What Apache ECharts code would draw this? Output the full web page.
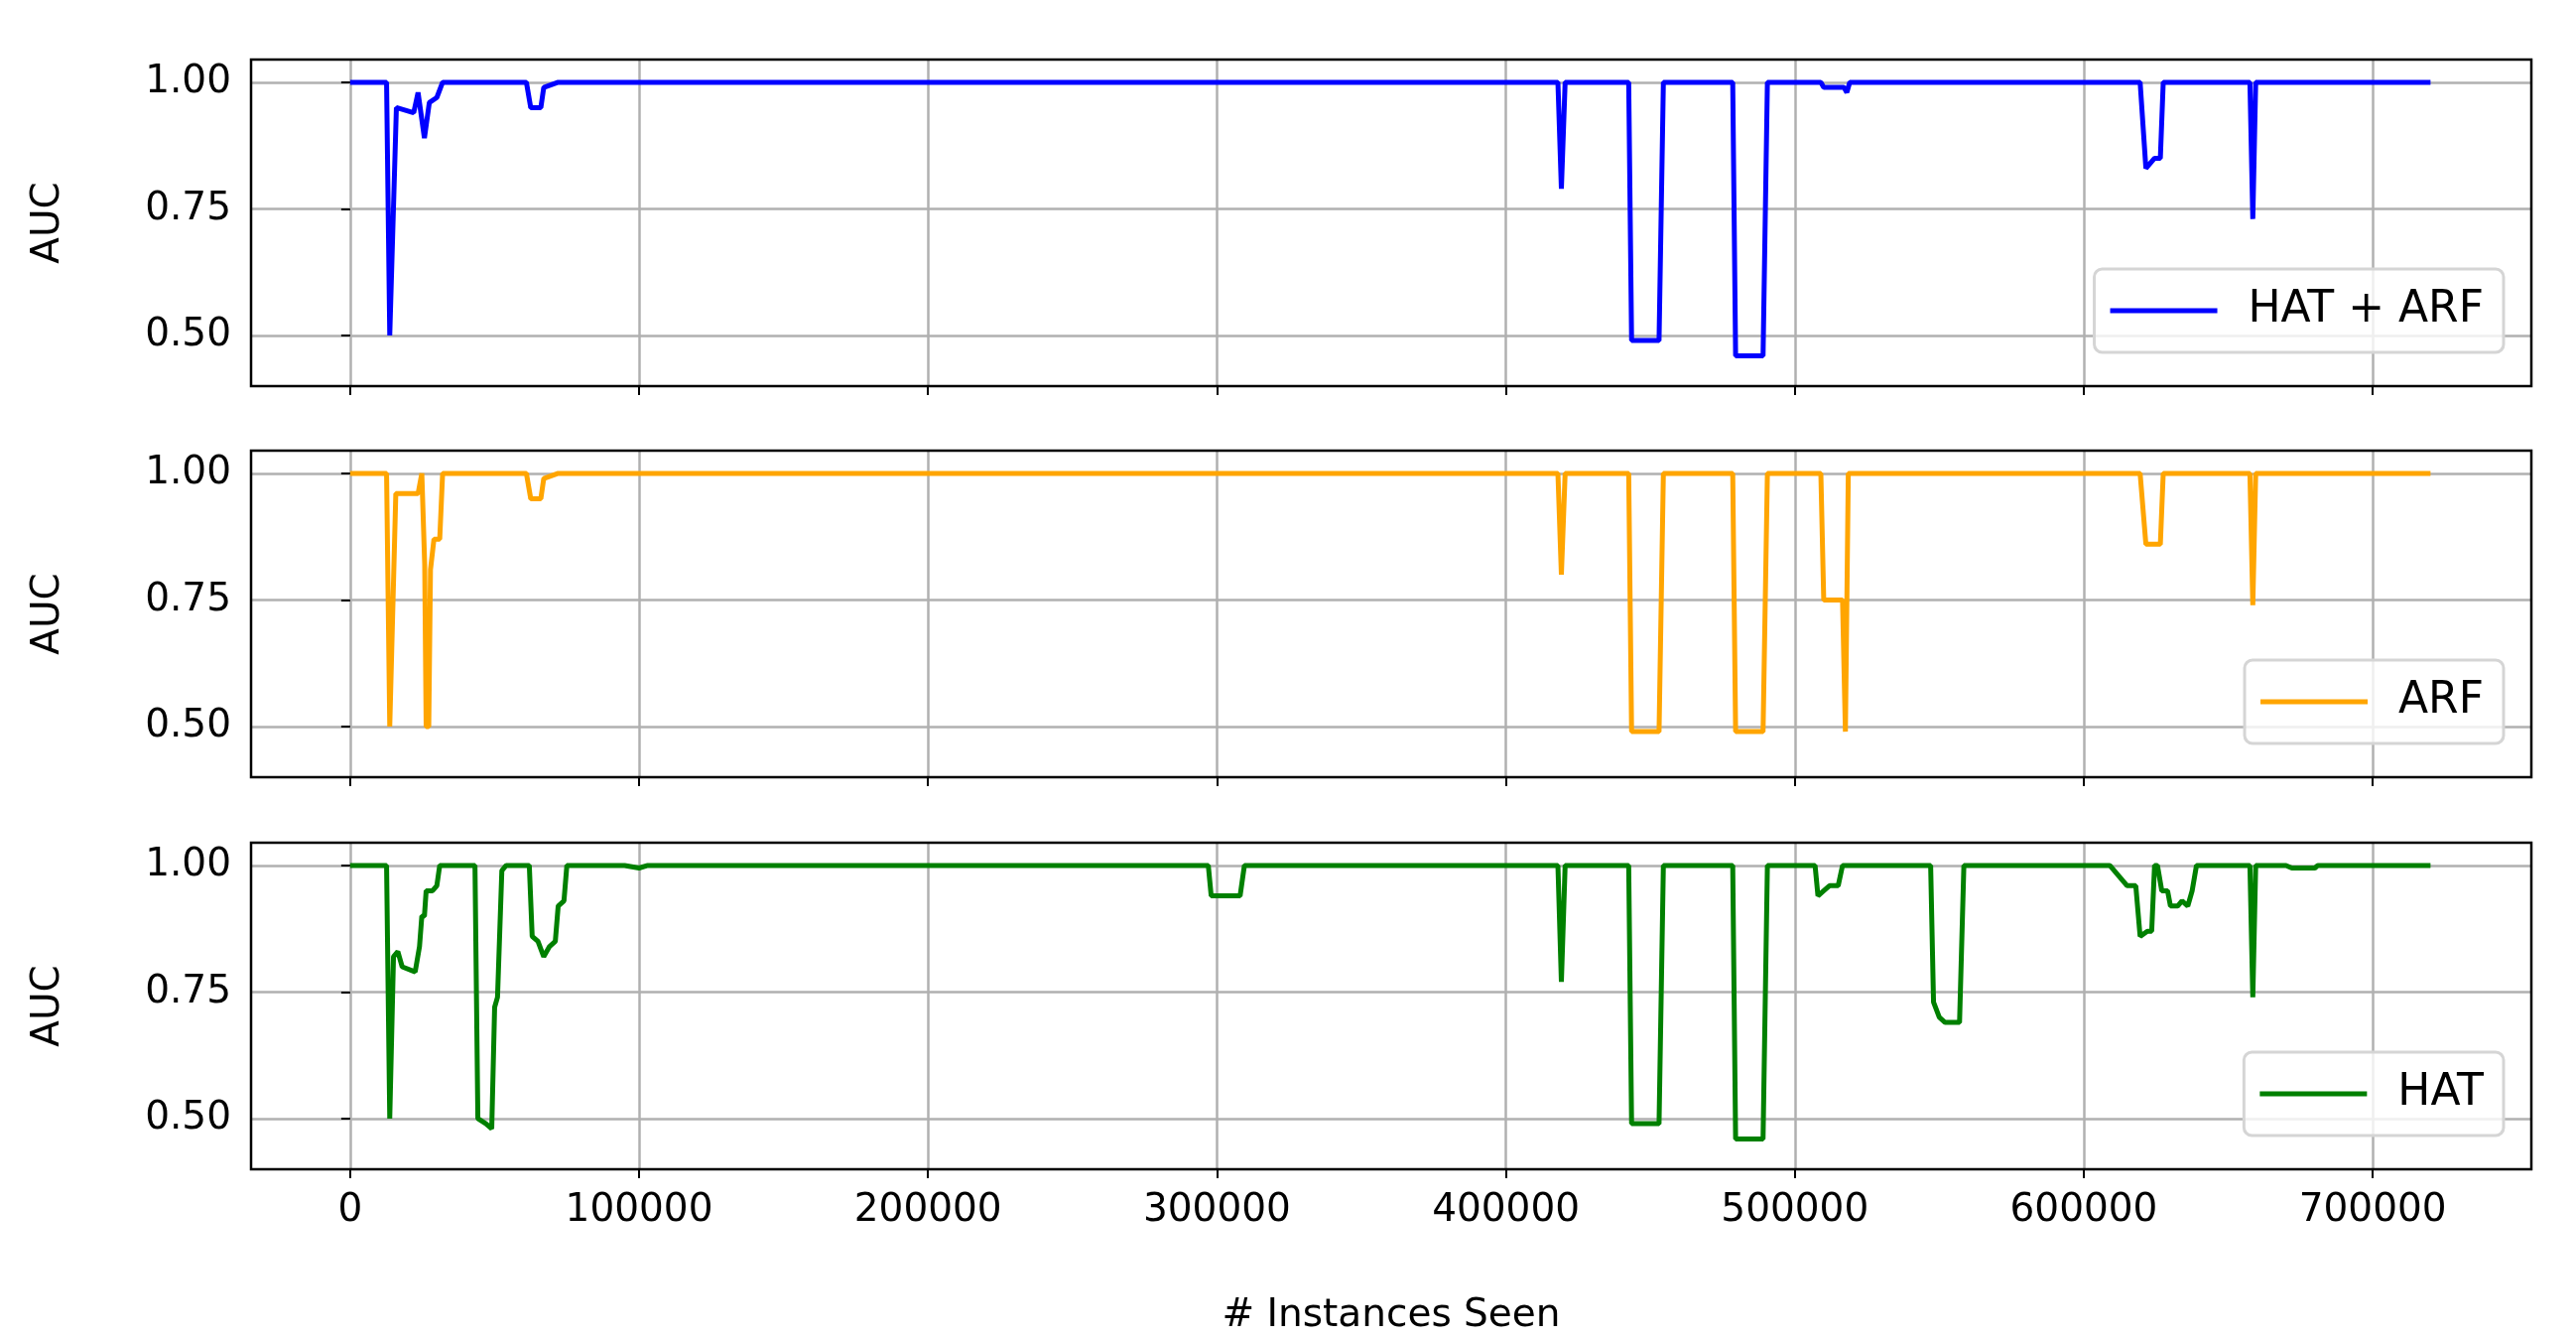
<!DOCTYPE html>
<html><head><meta charset="utf-8">
<script src="https://cdn.jsdelivr.net/npm/echarts@6/dist/echarts.min.js"></script>
<style>html,body{margin:0;background:#fff}#c{width:2596px;height:1349px}</style>
</head><body><div id="c"></div>
<script>
const seriesNames = ['HAT + ARF', 'ARF', 'HAT'];
const xTicks = [0, 100000, 200000, 300000, 400000, 500000, 600000, 700000];
const yTicks = [0.5, 0.75, 1.0];
const hatArf = [[0,1],[12600,1],[13700,0.5],[16000,0.95],[22000,0.94],[23500,0.98],[25700,0.89],[27400,0.96],[30000,0.97],[32000,1],[61000,1],[62500,0.95],[66000,0.95],[67000,0.99],[72000,1],[418000,1],[419200,0.79],[420500,1],[442500,1],[443500,0.49],[453000,0.49],[454500,1],[478500,1],[479500,0.46],[489000,0.46],[490500,1],[509000,1],[510000,0.99],[517000,0.99],[518000,0.98],[519000,1],[619500,1],[621500,0.83],[624500,0.85],[626500,0.85],[627500,1],[657500,1],[658500,0.73],[659500,1],[720000,1]];
const arf = [[0,1],[12600,1],[13700,0.5],[15800,0.96],[23500,0.96],[24800,1],[25800,0.82],[26300,0.5],[27200,0.5],[27800,0.81],[29000,0.87],[31000,0.87],[32000,1],[61000,1],[62500,0.95],[66000,0.95],[67000,0.99],[72000,1],[418000,1],[419200,0.80],[420500,1],[442500,1],[443500,0.49],[453000,0.49],[454500,1],[478500,1],[479500,0.49],[489000,0.49],[490500,1],[509000,1],[510000,0.75],[516500,0.75],[517500,0.49],[518500,1],[619500,1],[621500,0.86],[624500,0.86],[626500,0.86],[627500,1],[657500,1],[658500,0.74],[659500,1],[720000,1]];
const hat = [[0,1],[12600,1],[13700,0.5],[15000,0.82],[16500,0.83],[18000,0.80],[22500,0.79],[24000,0.84],[24800,0.90],[25700,0.90],[26300,0.95],[28500,0.95],[30000,0.96],[31000,1],[43200,1],[44200,0.50],[47000,0.49],[49000,0.48],[50000,0.72],[51000,0.74],[52500,0.99],[54000,1],[62000,1],[63000,0.86],[65000,0.85],[67000,0.82],[69000,0.84],[71000,0.85],[72000,0.92],[74000,0.93],[75000,1],[95000,1],[100000,0.995],[103000,1],[297000,1],[298000,0.94],[300000,0.94],[308000,0.94],[309500,1],[418000,1],[419200,0.77],[420500,1],[442500,1],[443500,0.49],[453000,0.49],[454500,1],[478500,1],[479500,0.46],[489000,0.46],[490500,1],[507000,1],[508000,0.94],[510000,0.95],[512000,0.96],[515000,0.96],[516500,1],[547000,1],[548000,0.73],[550000,0.70],[552000,0.69],[557000,0.69],[558500,1],[609000,1],[612000,0.98],[615000,0.96],[618000,0.96],[619500,0.86],[622000,0.87],[623500,0.87],[624500,1],[625500,1],[627000,0.95],[629000,0.95],[630000,0.92],[632500,0.92],[634000,0.93],[636000,0.92],[637500,0.95],[639000,1],[657500,1],[658500,0.74],[659500,1],[670000,1],[672000,0.995],[680000,0.995],[681000,1],[720000,1]];

const datas = [hatArf, arf, hat];
const colors = ['#0000ff', '#ffa500', '#008000'];
const tops = [60, 454, 849];
const H = 329;
const font = 'DejaVu Sans';
const FS = 39;
const grids = [], xAxes = [], yAxes = [], series = [], legends = [];
for (let i = 0; i < 3; i++) {
  grids.push({left: 253, right: 45, top: tops[i], height: H, show: false});
  xAxes.push({type: 'value', gridIndex: i, min: -34300, max: 754900,
    axisLine: {show: false},
    axisTick: {show: true, length: 9, inside: false, customValues: xTicks, lineStyle: {color: '#000', width: 2}},
    axisLabel: {show: i === 2, customValues: xTicks, formatter: v => String(v), color: '#000', fontSize: FS, fontFamily: font, margin: 22},
    splitLine: {show: true, lineStyle: {color: '#b0b0b0', width: 2.5}},
    name: i === 2 ? '# Instances Seen' : '', nameLocation: 'middle', nameGap: 128,
    nameTextStyle: {color: '#000', fontSize: FS, fontFamily: font}});
  yAxes.push({type: 'value', gridIndex: i, min: 0.4, max: 1.045,
    axisLine: {show: false},
    axisTick: {show: true, length: 9, customValues: yTicks, lineStyle: {color: '#000', width: 2}},
    axisLabel: {customValues: yTicks, formatter: v => v.toFixed(2), color: '#000', fontSize: FS, fontFamily: font, margin: 20},
    splitLine: {show: true, lineStyle: {color: '#b0b0b0', width: 2.5}},
    name: 'AUC', nameLocation: 'middle', nameGap: 185, nameRotate: 90,
    nameTextStyle: {color: '#000', fontSize: FS, fontFamily: font}});
  series.push({name: seriesNames[i], type: 'line', xAxisIndex: i, yAxisIndex: i, data: datas[i],
    showSymbol: false, symbol: 'none', lineStyle: {color: colors[i], width: 5}, itemStyle: {color: colors[i]}, animation: false});
  legends.push({data: [seriesNames[i]], right: 73, top: tops[i] + 211, orient: 'vertical',
    backgroundColor: 'rgba(255,255,255,0.8)', borderColor: '#d5d5d5', borderWidth: 3, borderRadius: 8,
    padding: [20, 20, 20, 16], itemWidth: 108, itemHeight: 5, itemGap: 10,
    icon: 'rect', textStyle: {color: '#000', fontSize: 44, fontFamily: font, padding: [0,0,0,26]}});
}
const frames = tops.map(t => ({type: 'rect', shape: {x: 253, y: t, width: 2596 - 45 - 253, height: H}, style: {fill: 'none', stroke: '#000', lineWidth: 2.5}, z: 100}));
const chart = echarts.init(document.getElementById('c'));
chart.setOption({backgroundColor: '#fff', animation: false, grid: grids, xAxis: xAxes, yAxis: yAxes, series, legend: legends, graphic: frames});
</script></body></html>
